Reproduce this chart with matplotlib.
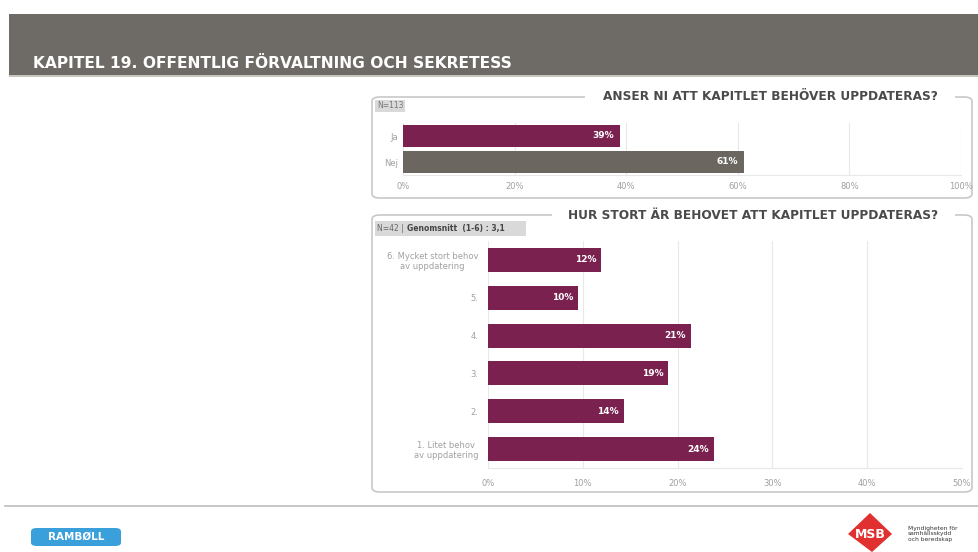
import matplotlib.pyplot as plt
from matplotlib.patches import FancyBboxPatch, Rectangle, Polygon
from matplotlib.ticker import PercentFormatter

W, H = 979, 552

# data
q1_title = 'ANSER NI ATT KAPITLET BEHÖVER UPPDATERAS?'
q1_categories = ['Ja', 'Nej']
q1_values = [38.9, 61.1]
q1_labels = ['39%', '61%']
q1_note = 'N=113'

q2_title = 'HUR STORT ÄR BEHOVET ATT KAPITLET UPPDATERAS?'
q2_categories = ['6. Mycket stort behov\nav uppdatering', '5.', '4.', '3.', '2.',
                 '1. Litet behov\nav uppdatering']
q2_values = [11.9, 9.5, 21.4, 19.0, 14.3, 23.8]
q2_labels = ['12%', '10%', '21%', '19%', '14%', '24%']

MAROON = '#7b2150'
GREY_BAR = '#6b6760'
TICK = '#a0a0a0'


def fx(x):
    return x / W


def fy(y):
    return 1 - y / H


def px_axes(fig, left, top, right, bottom):
    ax = fig.add_axes([fx(left), fy(bottom), (right - left) / W, (bottom - top) / H])
    ax.set_zorder(5)
    ax.patch.set_alpha(0)
    return ax


def panel(fig, left, top, right, bottom, title, title_x0, title_x1):
    box = FancyBboxPatch((fx(left), fy(bottom)), (right - left) / W, (bottom - top) / H,
                         boxstyle='round,pad=0,rounding_size=0.008',
                         transform=fig.transFigure, fc='white', ec='#c8c8c8', lw=1.2,
                         zorder=0)
    fig.patches.append(box)
    # gap in border for title
    fig.patches.append(Rectangle((fx(title_x0), fy(top + 4)), (title_x1 - title_x0) / W, 8 / H,
                                 transform=fig.transFigure, fc='white', ec='none', zorder=1))
    fig.text(fx((title_x0 + title_x1) / 2), fy(top), title, ha='center', va='center',
             fontsize=8.7, fontweight='bold', color='#4a4a4a', zorder=2)


def style_axes(ax, xmax, step):
    ax.set_xlim(0, xmax)
    ax.xaxis.set_major_formatter(PercentFormatter(decimals=0))
    ax.set_xticks(range(0, xmax + 1, step))
    ax.grid(axis='x', color='#e8e8e8', lw=0.8)
    ax.set_axisbelow(True)
    for s in ['top', 'right', 'left']:
        ax.spines[s].set_visible(False)
    ax.spines['bottom'].set_color('#e8e8e8')
    ax.tick_params(axis='both', length=0, labelsize=6, labelcolor=TICK)


fig = plt.figure(figsize=(W / 100, H / 100), dpi=100)
fig.patch.set_facecolor('white')

# header band
fig.patches.append(Rectangle((fx(9), fy(75)), (W - 9) / W, 61 / H, transform=fig.transFigure,
                             fc='#6e6a65', ec='none'))
fig.patches.append(Rectangle((fx(9), fy(77)), (W - 9) / W, 2 / H, transform=fig.transFigure,
                             fc='#c9c6c0', ec='none'))
fig.text(fx(33), fy(64), 'KAPITEL 19. OFFENTLIG FÖRVALTNING OCH SEKRETESS', ha='left',
         va='center', fontsize=11.2, fontweight='bold', color='white')

# panel 1
panel(fig, 372, 97, 972, 198, q1_title, 585, 955)
fig.text(fx(377), fy(106), q1_note, ha='left', va='center', fontsize=5.5, color='#777777',
         bbox=dict(boxstyle='square,pad=0.25', fc='#d9d9d9', ec='none'))
ax1 = px_axes(fig, 403, 123, 961, 175)
y1 = list(range(len(q1_categories)))[::-1]
ax1.barh(y1, q1_values, height=0.82, color=[MAROON, GREY_BAR])
ax1.set_ylim(-0.5, 1.5)
ax1.set_yticks(y1)
ax1.set_yticklabels(q1_categories)
style_axes(ax1, 100, 20)
ax1.tick_params(axis='x', pad=5)
for yy, v, lab in zip(y1, q1_values, q1_labels):
    ax1.text(v - 1, yy, lab, ha='right', va='center', color='white', fontsize=6.5,
             fontweight='bold')

# panel 2
panel(fig, 372, 215, 972, 492, q2_title, 552, 955)
fig.patches.append(Rectangle((fx(375), fy(236)), 151 / W, 15 / H, transform=fig.transFigure,
                             fc='#d9d9d9', ec='none', zorder=0.5))
fig.text(fx(377), fy(228), 'N=42 |', ha='left', va='center', fontsize=5.5, color='#666666')
fig.text(fx(407), fy(228), 'Genomsnitt  (1-6) : 3,1', ha='left', va='center', fontsize=5.5,
         color='#444444', fontweight='bold')
ax2 = px_axes(fig, 488, 241, 962, 468)
y2 = list(range(len(q2_categories)))[::-1]
ax2.barh(y2, q2_values, height=0.63, color=MAROON)
ax2.set_ylim(-0.5, len(q2_categories) - 0.5)
ax2.set_yticks(y2)
ax2.set_yticklabels(q2_categories, multialignment='center', linespacing=1.1)
style_axes(ax2, 50, 10)
ax2.tick_params(axis='x', pad=8)
ax2.tick_params(axis='y', pad=7)
for yy, v, lab in zip(y2, q2_values, q2_labels):
    ax2.text(v - 0.5, yy, lab, ha='right', va='center', color='white', fontsize=6.5,
             fontweight='bold')

# footer
fig.add_artist(plt.Line2D([fx(5), 1], [fy(506), fy(506)], transform=fig.transFigure,
                          color='#bdbdbd', lw=1.2))
fig.patches.append(FancyBboxPatch((fx(31), fy(546)), 90 / W, 18 / H,
                                  boxstyle='round,pad=0,rounding_size=0.006',
                                  transform=fig.transFigure, fc='#3aa0dc', ec='none'))
fig.text(fx(76), fy(537), 'RAMBØLL', ha='center', va='center', fontsize=7.5,
         fontweight='bold', color='white')
fig.patches.append(Polygon([(fx(870), fy(513)), (fx(892), fy(534)), (fx(872), fy(552)),
                            (fx(848), fy(534))], closed=True, transform=fig.transFigure,
                           fc='#e03030', ec='none'))
fig.text(fx(870), fy(535), 'MSB', ha='center', va='center', fontsize=9, fontweight='bold',
         color='white')
fig.text(fx(908), fy(534), 'Myndigheten för\nsamhällsskydd\noch beredskap', ha='left',
         va='center', fontsize=4.3, color='#333333', linespacing=1.2)

fig.savefig('out.png', dpi=100)
